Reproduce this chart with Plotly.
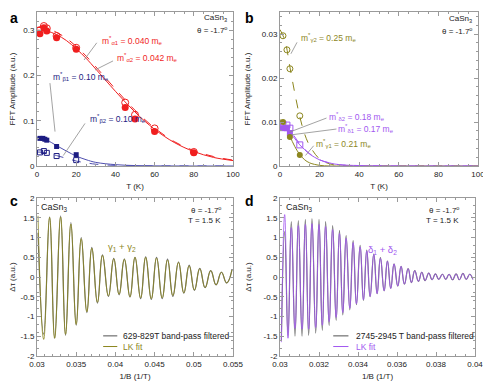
import plotly.graph_objects as go
from plotly.subplots import make_subplots

# ---- panel a : FFT amplitude vs T (alpha, beta) ----
T_a = [1.5, 3.5, 5, 10, 20, 45, 50, 60, 80]
amp_alpha1 = [0.292, 0.305, 0.298, 0.283, 0.258, 0.129, 0.104, 0.076, 0.029]
amp_alpha2 = [0.300, 0.309, 0.304, 0.287, 0.261, 0.140, 0.113, 0.083, 0.031]
T_beta = [1.5, 3, 4, 5, 10, 20]
amp_beta1 = [0.061, 0.061, 0.059, 0.057, 0.043, 0.025]
T_beta2 = [1.5, 3.5, 5, 10, 20]
amp_beta2 = [0.030, 0.033, 0.029, 0.022, 0.013]
T_fit = [0, 5, 10, 15, 20, 25, 30, 40, 50, 60, 70, 80, 90, 100]
fit_alpha1 = [0.300, 0.298, 0.290, 0.277, 0.259, 0.238, 0.214, 0.165, 0.119, 0.081, 0.052, 0.032, 0.019, 0.012]
fit_alpha2 = [0.306, 0.304, 0.295, 0.282, 0.264, 0.243, 0.219, 0.170, 0.123, 0.084, 0.054, 0.034, 0.021, 0.013]
fit_beta1 = [0.062, 0.057, 0.045, 0.033, 0.022, 0.014, 0.008, 0.003, 0.001, 0.0003, 0.0001, 0, 0, 0]
fit_beta2 = [0.031, 0.029, 0.023, 0.017, 0.011, 0.007, 0.004, 0.0013, 0.0004, 0.0001, 0, 0, 0, 0]

# ---- panel b : FFT amplitude vs T (gamma, delta) ----
T_b = [1.5, 3.5, 5, 10]
amp_gamma2 = [0.0296, 0.0264, 0.0221, 0.0114]
T_g1 = [1.5, 5, 10]
amp_gamma1 = [0.0100, 0.0066, 0.0025]
amp_delta1 = [0.0086, 0.0086, 0.0075]
T_d1 = [1.5, 3.5, 5]
amp_delta2 = [0.0095, 0.0093, 0.0086, 0.0048]
T_fit_b = [0, 2.5, 5, 7.5, 10, 12.5, 15, 20, 25, 30, 40, 60, 100]
fit_gamma2 = [0.031, 0.0285, 0.0225, 0.0165, 0.0112, 0.0072, 0.0046, 0.0016, 0.0005, 0.0001, 0, 0, 0]
fit_gamma1 = [0.0105, 0.0095, 0.0068, 0.0044, 0.0026, 0.0014, 0.0007, 0.00015, 0, 0, 0, 0, 0]
fit_delta1 = [0.0088, 0.0084, 0.0075, 0.0062, 0.0048, 0.0037, 0.0027, 0.0014, 0.0007, 0.0003, 0.0001, 0, 0]
fit_delta2 = [0.0095, 0.0090, 0.0080, 0.0066, 0.0050, 0.0038, 0.0028, 0.0014, 0.0007, 0.0003, 0.0001, 0, 0]

# ---- panel c : gamma1+gamma2 oscillation (extrema) ----
c_max_x = [0.03013, 0.03161, 0.03301, 0.03432, 0.03564, 0.03699, 0.03835, 0.03979, 0.04114, 0.04250,
           0.04386, 0.04525, 0.04665, 0.04805, 0.04941, 0.05076, 0.05216, 0.05352, 0.05487]
c_min_x = [0.03085, 0.03225, 0.03364, 0.03500, 0.03636, 0.03771, 0.03911, 0.04047, 0.04186, 0.04322,
           0.04458, 0.04597, 0.04733, 0.04873, 0.05008, 0.05144, 0.05284, 0.05419]
c_max_data = [1.12, 1.52, 1.55, 1.38, 1.00, 0.75, 0.56, 0.47, 0.45, 0.50, 0.51, 0.50, 0.45, 0.38, 0.30, 0.22, 0.16, 0.12, 0.18]
c_min_data = [-1.45, -1.55, -1.48, -1.22, -0.90, -0.66, -0.49, -0.45, -0.51, -0.55, -0.57, -0.55, -0.49, -0.41, -0.34, -0.27, -0.20, -0.15]
c_max_fit = [1.55, 1.51, 1.52, 1.34, 0.97, 0.73, 0.55, 0.46, 0.45, 0.50, 0.50, 0.48, 0.43, 0.37, 0.28, 0.21, 0.16, 0.12, 0.18]
c_min_fit = [-1.58, -1.55, -1.45, -1.20, -0.88, -0.64, -0.48, -0.44, -0.50, -0.53, -0.55, -0.53, -0.47, -0.40, -0.33, -0.27, -0.20, -0.15]

# ---- panel d : delta1+delta2 oscillation ----
d_max_x = [0.03024, 0.03058, 0.03094, 0.03130, 0.03164, 0.03200, 0.03234, 0.03270, 0.03305, 0.03339,
           0.03375, 0.03411, 0.03445, 0.03481, 0.03515, 0.03551, 0.03585, 0.03621, 0.03657, 0.03691,
           0.03727, 0.03763, 0.03797, 0.03833, 0.03867, 0.03903, 0.03938, 0.03973]
d_min_x = [0.03007, 0.03041, 0.03077, 0.03113, 0.03147, 0.03183, 0.03217, 0.03252, 0.03288, 0.03322,
           0.03358, 0.03392, 0.03428, 0.03462, 0.03498, 0.03534, 0.03568, 0.03604, 0.03638, 0.03674,
           0.03710, 0.03744, 0.03780, 0.03814, 0.03850, 0.03885, 0.03920, 0.03955, 0.03989]
d_max_data = [1.15, 1.40, 1.43, 1.46, 1.48, 1.46, 1.40, 1.30, 1.18, 1.05, 0.92, 0.80, 0.68, 0.58, 0.49, 0.41,
              0.33, 0.27, 0.21, 0.16, 0.12, 0.10, 0.08, 0.07, 0.07, 0.08, 0.09, 0.07]
d_max_fit = [1.58, 1.25, 1.30, 1.33, 1.35, 1.33, 1.28, 1.20, 1.10, 0.98, 0.87, 0.76, 0.66, 0.56, 0.47, 0.40,
             0.33, 0.27, 0.21, 0.16, 0.12, 0.10, 0.08, 0.07, 0.07, 0.08, 0.09, 0.07]
d_min_data = [-1.61, -1.50, -1.50, -1.50, -1.48, -1.42, -1.35, -1.23, -1.10, -0.96, -0.83, -0.70, -0.59, -0.50,
              -0.42, -0.35, -0.29, -0.23, -0.18, -0.14, -0.11, -0.09, -0.07, -0.06, -0.06, -0.07, -0.07, -0.06, -0.06]
d_min_fit = [-1.65, -1.55, -1.30, -1.32, -1.32, -1.28, -1.22, -1.13, -1.02, -0.90, -0.79, -0.68, -0.58, -0.49,
             -0.42, -0.35, -0.29, -0.23, -0.18, -0.14, -0.11, -0.09, -0.07, -0.06, -0.06, -0.07, -0.07, -0.06, -0.06]

osc_ticks = [-2, -1.5, -1, -0.5, 0, 0.5, 1, 1.5, 2]
osc_ticktext = ['-2', '-1.5', '-1', '-0.5', '0', '0.5', '1', '1.5', '2']

RED = '#f01e1e'
NAVY = '#1c1c82'
BLUE = '#5050b0'
OLIVE = '#8c861e'
PURPLE = '#a258f0'
GRAY = '#6e6e6e'
FONT = 'Liberation Sans, Arial, sans-serif'

# page body has an 8px margin, so the figure is a bit smaller and positions are shifted
W, H, OFF = 483, 380, 8


def dx_(p0, p1):
    return [(p0 - OFF) / W, (p1 - OFF) / W]


def dy_(top, bottom):
    return [1 - (bottom - OFF) / H, 1 - (top - OFF) / H]


def merge(xmax, ymax, xmin, ymin):
    pts = sorted(list(zip(xmax, ymax)) + list(zip(xmin, ymin)))
    return [p[0] for p in pts], [p[1] for p in pts]


fig = make_subplots(rows=2, cols=2)

# panel a
fig.add_trace(go.Scatter(x=T_fit, y=fit_alpha1, mode='lines', line=dict(color=RED, width=1, shape='spline')), 1, 1)
fig.add_trace(go.Scatter(x=T_fit, y=fit_alpha2, mode='lines', line=dict(color=RED, width=1, dash='dash', shape='spline')), 1, 1)
fig.add_trace(go.Scatter(x=T_fit, y=fit_beta1, mode='lines', line=dict(color=BLUE, width=1, shape='spline')), 1, 1)
fig.add_trace(go.Scatter(x=T_fit, y=fit_beta2, mode='lines', line=dict(color=BLUE, width=1, dash='dash', shape='spline')), 1, 1)
fig.add_trace(go.Scatter(x=T_a, y=amp_alpha2, mode='markers',
                         marker=dict(symbol='circle-open', size=7, color=RED, line=dict(width=1))), 1, 1)
fig.add_trace(go.Scatter(x=T_a, y=amp_alpha1, mode='markers', marker=dict(symbol='circle', size=7, color=RED)), 1, 1)
fig.add_trace(go.Scatter(x=T_beta2, y=amp_beta2, mode='markers',
                         marker=dict(symbol='square-open', size=5, color=NAVY, line=dict(width=1))), 1, 1)
fig.add_trace(go.Scatter(x=T_beta, y=amp_beta1, mode='markers', marker=dict(symbol='square', size=5, color=NAVY)), 1, 1)

# panel b
fig.add_trace(go.Scatter(x=T_fit_b, y=fit_gamma2, mode='lines', line=dict(color=OLIVE, width=1, dash='dash', shape='spline')), 1, 2)
fig.add_trace(go.Scatter(x=T_fit_b, y=fit_gamma1, mode='lines', line=dict(color=OLIVE, width=1, shape='spline')), 1, 2)
fig.add_trace(go.Scatter(x=T_fit_b, y=fit_delta2, mode='lines', line=dict(color=PURPLE, width=1, dash='dash', shape='spline')), 1, 2)
fig.add_trace(go.Scatter(x=T_fit_b, y=fit_delta1, mode='lines', line=dict(color=PURPLE, width=1, shape='spline')), 1, 2)
fig.add_trace(go.Scatter(x=T_b, y=amp_gamma2, mode='markers',
                         marker=dict(symbol='circle-open', size=6, color=OLIVE, line=dict(width=1))), 1, 2)
fig.add_trace(go.Scatter(x=T_b, y=amp_delta2, mode='markers',
                         marker=dict(symbol='square-open', size=6, color=PURPLE, line=dict(width=1))), 1, 2)
fig.add_trace(go.Scatter(x=T_d1, y=amp_delta1, mode='markers', marker=dict(symbol='square', size=6, color=PURPLE)), 1, 2)
fig.add_trace(go.Scatter(x=T_g1, y=amp_gamma1, mode='markers', marker=dict(symbol='circle', size=6, color=OLIVE)), 1, 2)

# panel c
cx, cy = merge(c_max_x, c_max_data, c_min_x, c_min_data)
fig.add_trace(go.Scatter(x=cx, y=cy, mode='lines', line=dict(color=GRAY, width=1.2, shape='spline', smoothing=1.3)), 2, 1)
cx, cy = merge(c_max_x, c_max_fit, c_min_x, c_min_fit)
fig.add_trace(go.Scatter(x=cx, y=cy, mode='lines', line=dict(color=OLIVE, width=0.8, shape='spline', smoothing=1.3)), 2, 1)

# panel d
dx, dy = merge(d_max_x, d_max_data, d_min_x, d_min_data)
fig.add_trace(go.Scatter(x=dx, y=dy, mode='lines', line=dict(color=GRAY, width=1.2, shape='spline', smoothing=1.3)), 2, 2)
dx, dy = merge(d_max_x, d_max_fit, d_min_x, d_min_fit)
fig.add_trace(go.Scatter(x=dx, y=dy, mode='lines', line=dict(color=PURPLE, width=0.8, shape='spline', smoothing=1.3)), 2, 2)

axis_style = dict(showline=True, linecolor='#9a9a9a', linewidth=1, mirror='allticks', ticks='inside',
                  ticklen=4, tickcolor='#9a9a9a', showgrid=False, zeroline=False, automargin=False,
                  tickfont=dict(family=FONT, size=8, color='#222'),
                  title_font=dict(family=FONT, size=8, color='#222'),
                  minor=dict(ticks='inside', ticklen=2, tickcolor='#9a9a9a'))

fig.update_xaxes(axis_style)
fig.update_yaxes(axis_style)

fig.update_layout(
    xaxis=dict(domain=dx_(37, 233), range=[0, 100], dtick=20, title_text='T (K)', title_standoff=5),
    yaxis=dict(domain=dy_(12, 166), range=[0, 0.34], dtick=0.1, title_text='FFT Amplitude (a.u.)', title_standoff=10),
    xaxis2=dict(domain=dx_(280, 478), range=[0, 100], dtick=20, title_text='T (K)', title_standoff=5),
    yaxis2=dict(domain=dy_(12, 166), range=[0, 0.035], dtick=0.01, title_text='FFT Amplitude (a.u.)', title_standoff=10),
    xaxis3=dict(domain=dx_(37, 233), range=[0.03, 0.055], dtick=0.005, title_text='1/B (1/T)', title_standoff=5),
    yaxis3=dict(domain=dy_(198, 356), range=[-2, 2], tickvals=osc_ticks, ticktext=osc_ticktext,
                title_text='Δτ (a.u.)', title_standoff=10),
    xaxis4=dict(domain=dx_(280, 475), range=[0.03, 0.04], dtick=0.002, title_text='1/B (1/T)', title_standoff=5),
    yaxis4=dict(domain=dy_(198, 356), range=[-2, 2], tickvals=osc_ticks, ticktext=osc_ticktext,
                title_text='Δτ (a.u.)', title_standoff=10),
    width=W, height=H, autosize=False,
    margin=dict(l=0, r=0, t=0, b=0),
    paper_bgcolor='white', plot_bgcolor='white',
    showlegend=False,
    font=dict(family=FONT, size=8, color='#222'),
)

ann = []


def txt(text, x, y, ref, color='#222', size=8, xanchor='left', yanchor='middle', bold=False):
    xr, yr = ref
    if bold:
        text = '<b>' + text + '</b>'
    ann.append(dict(text=text, x=x, y=y, xref=xr, yref=yr, showarrow=False, xanchor=xanchor,
                    yanchor=yanchor, font=dict(family=FONT, size=size, color=color)))


# panel letters
txt('a', 0.0, 1.0, ('paper', 'paper'), '#000', 14, yanchor='top', bold=True)
txt('b', 0.486, 1.0, ('paper', 'paper'), '#000', 14, yanchor='top', bold=True)
txt('c', 0.0, 1 - 183 / H, ('paper', 'paper'), '#000', 14, yanchor='top', bold=True)
txt('d', 0.486, 1 - 183 / H, ('paper', 'paper'), '#000', 14, yanchor='top', bold=True)

# panel a text
txt('CaSn<sub>3</sub>', 98, 0.326, ('x', 'y'), size=8, xanchor='right')
txt('θ = -1.7<sup>o</sup>', 98, 0.300, ('x', 'y'), size=8, xanchor='right')
txt('m<sup>*</sup><sub>α1</sub> = 0.040 m<sub>e</sub>', 32, 0.276, ('x', 'y'), RED, 8.5)
txt('m<sup>*</sup><sub>α2</sub> = 0.042 m<sub>e</sub>', 40, 0.240, ('x', 'y'), RED, 8.5)
txt('m<sup>*</sup><sub>β1</sub> = 0.10 m<sub>e</sub>', 7, 0.197, ('x', 'y'), NAVY, 8.5)
txt('m<sup>*</sup><sub>β2</sub> = 0.10 m<sub>e</sub>', 26, 0.105, ('x', 'y'), NAVY, 8.5)

# panel b text
txt('CaSn<sub>3</sub>', 98, 0.0335, ('x2', 'y2'), size=8, xanchor='right')
txt('θ = -1.7<sup>o</sup>', 98, 0.0307, ('x2', 'y2'), size=8, xanchor='right')
txt('m<sup>*</sup><sub>γ2</sub> = 0.25 m<sub>e</sub>', 9.5, 0.0292, ('x2', 'y2'), OLIVE, 8.5)
txt('m<sup>*</sup><sub>δ2</sub> = 0.18 m<sub>e</sub>', 23.5, 0.0112, ('x2', 'y2'), PURPLE, 8.5)
txt('m<sup>*</sup><sub>δ1</sub> = 0.17 m<sub>e</sub>', 28.5, 0.0085, ('x2', 'y2'), PURPLE, 8.5)
txt('m<sup>*</sup><sub>γ1</sub> = 0.21 m<sub>e</sub>', 17, 0.0052, ('x2', 'y2'), OLIVE, 8.5)

# panel c text
txt('CaSn<sub>3</sub>', 0.0302, 1.75, ('x3', 'y3'), size=9)
txt('θ = -1.7<sup>o</sup>', 0.0537, 1.70, ('x3', 'y3'), size=8, xanchor='right')
txt('T = 1.5 K', 0.0537, 1.42, ('x3', 'y3'), size=8, xanchor='right')
txt('γ<sub>1</sub> + γ<sub>2</sub>', 0.0408, 0.77, ('x3', 'y3'), OLIVE, 9.5, xanchor='center')
txt('629-829T band-pass filtered', 0.04065, -1.49, ('x3', 'y3'), size=8.5)
txt('LK fit', 0.04065, -1.76, ('x3', 'y3'), OLIVE, 8.5)

# panel d text
txt('CaSn<sub>3</sub>', 0.0302, 1.75, ('x4', 'y4'), size=9)
txt('θ = -1.7<sup>o</sup>', 0.0393, 1.70, ('x4', 'y4'), size=8, xanchor='right')
txt('T = 1.5 K', 0.0393, 1.42, ('x4', 'y4'), size=8, xanchor='right')
txt('δ<sub>1</sub> + δ<sub>2</sub>', 0.03525, 0.68, ('x4', 'y4'), PURPLE, 9.5, xanchor='center')
txt('2745-2945 T band-pass filtered', 0.03377, -1.49, ('x4', 'y4'), size=8.5)
txt('LK fit', 0.03377, -1.76, ('x4', 'y4'), PURPLE, 8.5)

fig.update_layout(annotations=ann)

LEAD = '#8c8c8c'
shapes = [
    # leader lines panel a
    dict(type='line', xref='x', yref='y', x0=30.5, y0=0.272, x1=24.0, y1=0.234),
    dict(type='line', xref='x', yref='y', x0=38.8, y0=0.232, x1=29.6, y1=0.212),
    dict(type='line', xref='x', yref='y', x0=6.6, y0=0.183, x1=9.2, y1=0.076),
    dict(type='line', xref='x', yref='y', x0=24.5, y0=0.094, x1=13.4, y1=0.023),
    # leader lines panel b
    dict(type='line', xref='x2', yref='y2', x0=8.6, y0=0.0281, x1=5.5, y1=0.0255),
    dict(type='line', xref='x2', yref='y2', x0=23.5, y0=0.0109, x1=4.8, y1=0.0077),
    dict(type='line', xref='x2', yref='y2', x0=28.5, y0=0.0084, x1=6.0, y1=0.0071),
    dict(type='line', xref='x2', yref='y2', x0=17, y0=0.0046, x1=12.9, y1=0.0024),
]
for s in shapes:
    s['line'] = dict(color=LEAD, width=0.8)
# legend samples
shapes += [
    dict(type='line', xref='x3', yref='y3', x0=0.03844, y0=-1.49, x1=0.04024, y1=-1.49, line=dict(color=GRAY, width=1.2)),
    dict(type='line', xref='x3', yref='y3', x0=0.03844, y0=-1.76, x1=0.04024, y1=-1.76, line=dict(color=OLIVE, width=1)),
    dict(type='line', xref='x4', yref='y4', x0=0.03273, y0=-1.49, x1=0.03351, y1=-1.49, line=dict(color=GRAY, width=1.2)),
    dict(type='line', xref='x4', yref='y4', x0=0.03273, y0=-1.76, x1=0.03351, y1=-1.76, line=dict(color=PURPLE, width=1)),
]
fig.update_layout(shapes=shapes)

fig.write_html("out.html")
